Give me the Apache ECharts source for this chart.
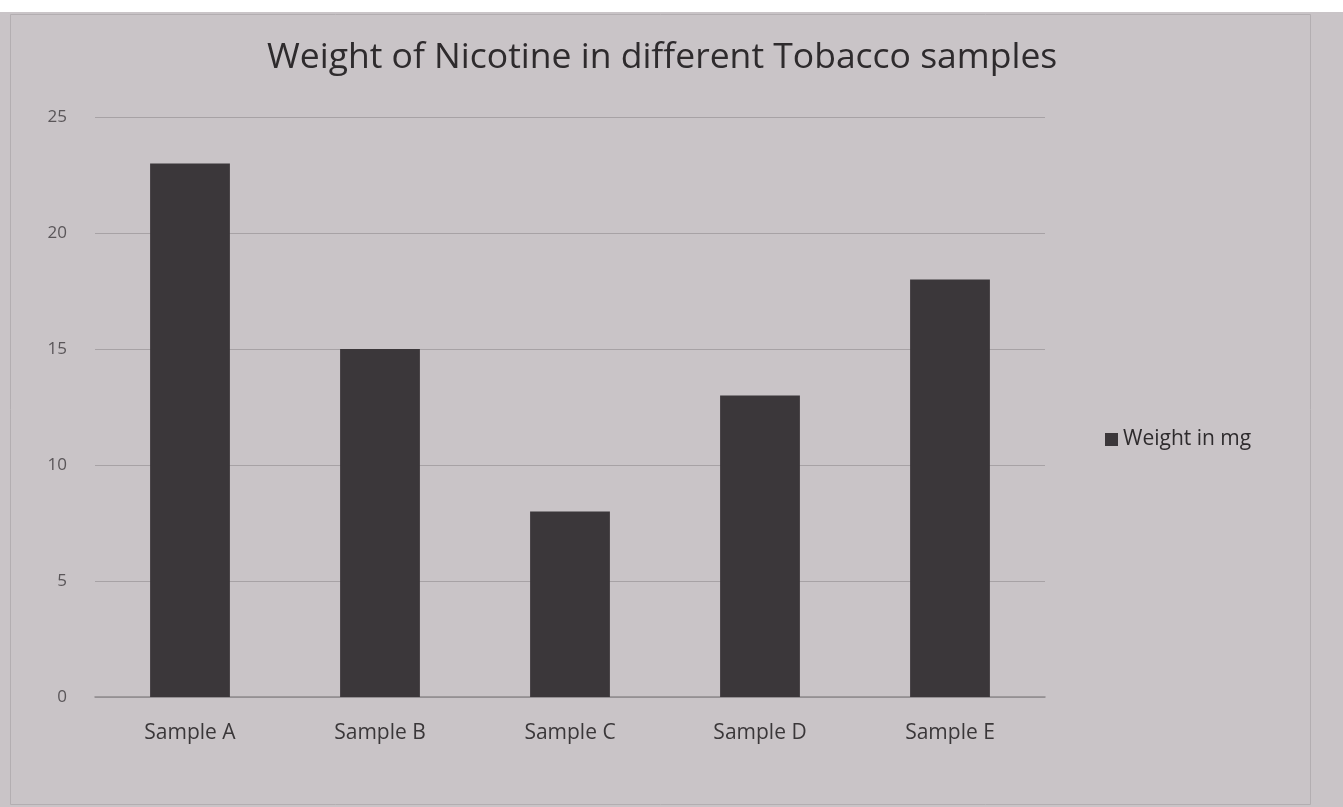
<!DOCTYPE html>
<html><head><meta charset="utf-8">
<script src="https://cdn.jsdelivr.net/npm/echarts@6/dist/echarts.min.js"></script>
<style>html,body{margin:0;padding:0;background:#ffffff;}#c{width:1343px;height:807px;}</style>
</head><body><div id="c"></div>
<script>
const categories = ["Sample A","Sample B","Sample C","Sample D","Sample E"];
const weights = [23, 15, 8, 13, 18];
const yTicks = [0, 5, 10, 15, 20, 25];
const seriesName = "Weight in mg";
const titleText = "Weight of Nicotine in different Tobacco samples";

const chart = echarts.init(document.getElementById('c'));
chart.setOption({
  backgroundColor: '#c9c4c7',
  animation: false,
  graphic: [
    {type:'rect', left:0, top:0, shape:{width:1343, height:12}, style:{fill:'#ffffff'}, z:-1},
    {type:'rect', left:8, top:12, shape:{width:1300, height:790}, style:{fill:'none', stroke:'#b3aeb1', lineWidth:1}, z:-1}
  ],
  title: {
    text: titleText, left: 262, top: 35,
    textStyle: {fontFamily: 'Open Sans', fontWeight: 'normal', fontSize: 35.5, color: '#2e2b2d'}
  },
  legend: {
    data: [seriesName], orient: 'vertical', left: 1100, top: 424,
    icon: 'rect', itemWidth: 13, itemHeight: 13, itemGap: 5,
    textStyle: {fontFamily: 'Open Sans', fontSize: 21, color: '#2e2b2d'}
  },
  grid: {left: 95, right: 298, top: 117, bottom: 110, containLabel: false},
  xAxis: {
    type: 'category', data: categories,
    axisLine: {lineStyle: {color: '#8f8a8d', width: 1.5}},
    axisTick: {show: false},
    axisLabel: {fontFamily: 'Open Sans', fontSize: 21, color: '#3a3739', margin: 26}
  },
  yAxis: {
    type: 'value', min: yTicks[0], max: yTicks[yTicks.length-1], interval: 5,
    axisLine: {show: false}, axisTick: {show: false},
    axisLabel: {fontFamily: 'Open Sans', fontSize: 17, color: '#5a5659', margin: 28},
    splitLine: {lineStyle: {color: '#a7a2a5', width: 1.2}}
  },
  series: [{
    name: seriesName, type: 'bar', data: weights, barWidth: '42%',
    itemStyle: {color: '#3b373a'}
  }]
});
</script></body></html>
